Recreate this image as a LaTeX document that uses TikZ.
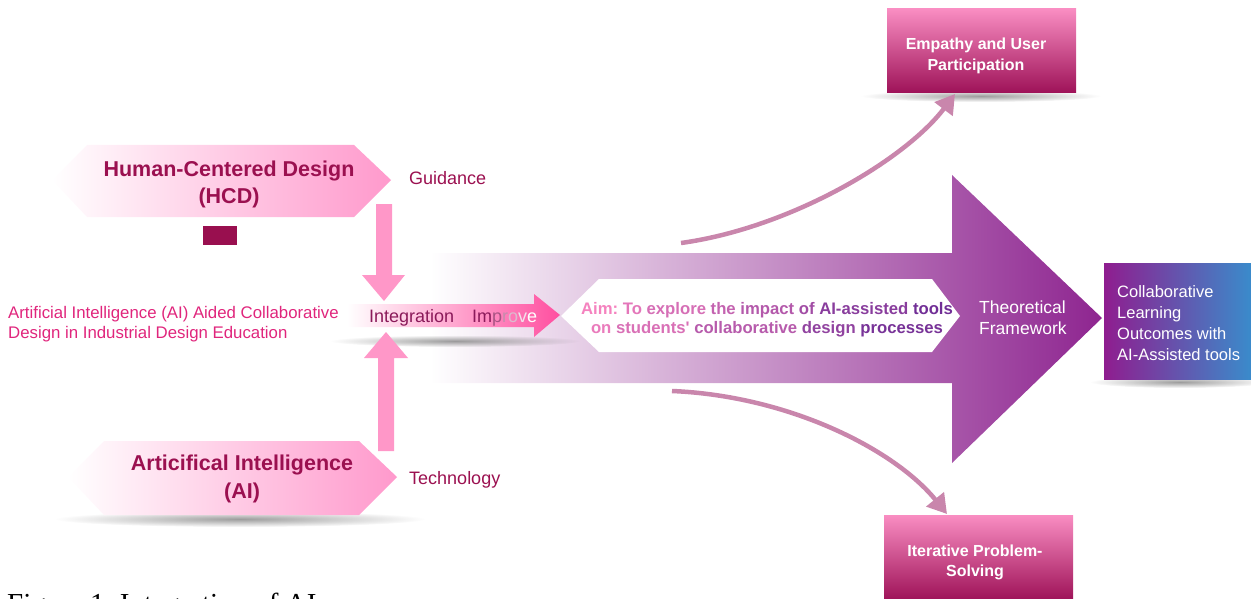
\documentclass[tikz,border=0pt]{standalone}
\usepackage{fontspec}
\setmainfont{Liberation Sans}
\newfontfamily\capfont{Liberation Serif}
\usetikzlibrary{arrows.meta,fadings,shadings}

\definecolor{mag}{HTML}{9B1050}
\definecolor{intmag}{HTML}{8B1A5A}
\definecolor{hexpink}{HTML}{FF99CC}
\definecolor{blockpink}{HTML}{FF97C8}
\definecolor{intpink}{HTML}{FF4FA0}
\definecolor{leftred}{HTML}{E0257C}
\definecolor{bigpurple}{HTML}{8E2590}
\definecolor{curvecol}{HTML}{C986AC}
\definecolor{boxtop}{HTML}{F98DC2}
\definecolor{boxbot}{HTML}{9E1258}
\definecolor{outpurple}{HTML}{8F1D8F}
\definecolor{outmid}{HTML}{7D3A9C}
\definecolor{outblue}{HTML}{3A8BCB}
\definecolor{aimpink}{HTML}{F582BF}
\definecolor{aimpurple}{HTML}{6A2A94}
\definecolor{darkrect}{HTML}{990F4F}

\newcommand{\myfs}[1]{\fontsize{#1}{#1}\selectfont}
\newcommand{\ac}[2]{\textcolor{aimpurple!#1!aimpink}{#2}}

\tikzfading[name=softshadow, inner color=transparent!30, outer color=transparent!100]

\tikzset{
  hexshape/.style={left color=white, right color=hexpink, draw=none},
  blockarrow/.style={fill=blockpink, draw=none},
  curvearrow/.style={draw=curvecol, line width=4.5pt, -{Triangle[length=19pt,width=22pt]}},
  outbox/.style={draw=none, top color=boxtop, bottom color=boxbot, inner sep=0pt},
  shadowblob/.style={fill=black!55, path fading=softshadow},
  boldlbl/.style={font=\bfseries\myfs{16}\setlength{\baselineskip}{20.5pt}, text=white, align=center, inner sep=0pt},
  maglbl/.style={font=\myfs{18}, text=mag, inner sep=0pt, anchor=base west},
  hexlbl/.style={font=\bfseries\myfs{21.5}, text=mag, align=center, inner sep=0pt},
}

\begin{document}
\frenchspacing
\begin{tikzpicture}[x=1pt,y=-1pt]
\useasboundingbox (0,0) rectangle (1251,599);
\clip (0,0) rectangle (1251,599);

% big theoretical-framework arrow
\path[left color=white, right color=bigpurple]
  (430,253) -- (952,253) -- (952,175) -- (1102,318) -- (952,463) -- (952,383) -- (430,383) -- cycle;

% shadows
\fill[shadowblob] (455,341) ellipse [x radius=125, y radius=6];
\fill[shadowblob] (240,519) ellipse [x radius=185, y radius=8];
\fill[shadowblob] (981,96) ellipse [x radius=120, y radius=6];
\fill[shadowblob] (1180,382) ellipse [x radius=90, y radius=6];

% aim hexagon
\path[fill=white] (561,316) -- (599,279) -- (932,279) -- (960,316) -- (932,352) -- (599,352) -- cycle;

% integration arrow
\path[left color=white, right color=intpink]
  (347,304) -- (534,304) -- (534,294) -- (560,315) -- (534,337) -- (534,327) -- (347,327) -- cycle;

% vertical block arrows
\path[blockarrow] (376,204) -- (392,204) -- (392,275) -- (405,275) -- (384,301) -- (362,275) -- (376,275) -- cycle;
\path[blockarrow] (378,451) -- (394,451) -- (394,358) -- (408,358) -- (386,332) -- (364,358) -- (378,358) -- cycle;

% hexagons
\path[hexshape] (52,180) -- (87,145) -- (354,145) -- (391,180) -- (354,217) -- (87,217) -- cycle;
\path[hexshape] (68,477) -- (104,441) -- (359,441) -- (397,477) -- (359,515) -- (104,515) -- cycle;

% small dark rectangle
\fill[darkrect] (203,226) rectangle (237,245);

% output boxes
\node[outbox, minimum width=189pt, minimum height=84pt] (empbox) at (981.5,51) {};
\node[outbox, minimum width=189pt, minimum height=85pt] (itbox) at (978.5,557.5) {};
\node[draw=none, left color=outpurple, middle color=outmid, right color=outblue, inner sep=0pt,
      minimum width=147pt, minimum height=116pt] (outcome) at (1177.5,321) {};

% curved connectors
\coordinate (upstart) at (681,243);
\coordinate (upend) at (955,94);
\coordinate (downstart) at (672,391);
\coordinate (downend) at (947,514);
\draw[curvearrow] (upstart) .. controls (790,228) and (905,160) .. (upend);
\draw[curvearrow] (downstart) .. controls (790,396) and (895,450) .. (downend);

% texts
\node[hexlbl, font=\bfseries\myfs{21.5}\setlength{\baselineskip}{27pt}]
  (hcd) at (229,184) {Human-Centered Design\\(HCD)};
\node[hexlbl, font=\bfseries\myfs{21.5}\setlength{\baselineskip}{28pt}]
  (ai) at (242,478.5) {Articifical Intelligence\\(AI)};
\node[maglbl] (guid) at (409,185) {Guidance};
\node[maglbl] (tech) at (409,484) {Technology};
\node[font=\myfs{16.8}\setlength{\baselineskip}{20pt}, text=leftred, align=left, inner sep=0pt, anchor=west]
  (topic) at (8,324.6) {Artificial Intelligence (AI) Aided Collaborative\\Design in Industrial Design Education};
\node[maglbl, text=intmag] (integ) at (369,322) {Integration};
\node[maglbl] (impr) at (472,322) {\textcolor{intmag}{Im}\textcolor{intmag!75!white}{p}\textcolor{intmag!50!white}{r}\textcolor{intmag!30!white}{o}\textcolor{intmag!12!white}{v}\textcolor{white}{e}};
\node[font=\bfseries\myfs{16.7}\setlength{\baselineskip}{19pt}, align=center, inner sep=0pt]
  (aim) at (767,320.2) {\ac{0}{Aim:} \ac{12}{To} \ac{22}{explore} \ac{35}{the} \ac{47}{impact} \ac{60}{of} \ac{78}{AI-assisted} \ac{95}{tools}\\
  \ac{8}{on} \ac{20}{students\textquotesingle} \ac{45}{collaborative} \ac{72}{design} \ac{90}{processes}};
\node[font=\myfs{17.5}\setlength{\baselineskip}{21pt}, text=white, align=left, inner sep=0pt, anchor=west]
  (theo) at (979,317.4) {Theoretical\\Framework};
\node[font=\myfs{16.5}\setlength{\baselineskip}{21pt}, text=white, align=left, inner sep=0pt, anchor=west]
  (outtxt) at (1117,323.5) {Collaborative\\Learning\\Outcomes with\\AI-Assisted tools};
\node[boldlbl] (emp) at (976,55.9) {Empathy and User\\Participation};
\node[boldlbl] (iter) at (975,562.4) {Iterative Problem-\\Solving};

% caption (cut off at the bottom edge, as in the reference)
\node[font=\capfont\myfs{29}, anchor=base west, inner sep=0pt] (cap) at (7,613) {Figure 1: Integration of AI};
\end{tikzpicture}
\end{document}
